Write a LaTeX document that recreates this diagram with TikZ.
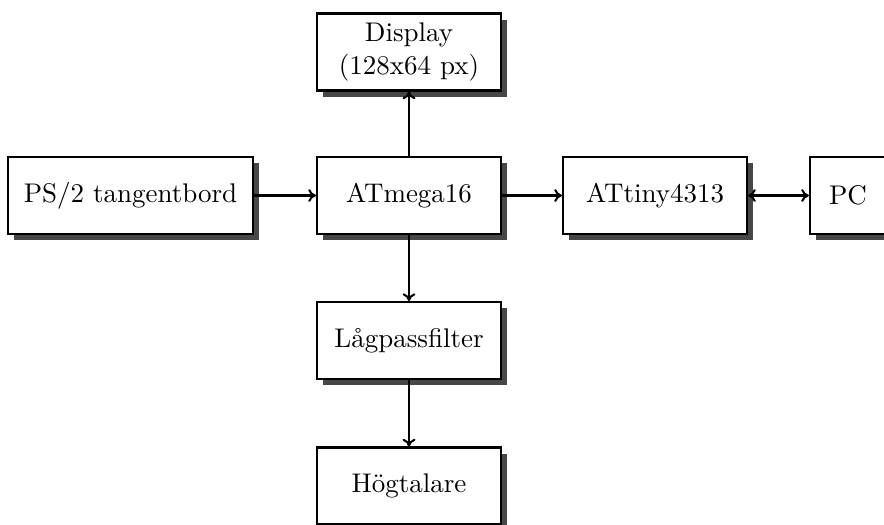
\documentclass[tikz,border=0pt]{standalone}
\usetikzlibrary{shadows,arrows.meta}
\begin{document}
\begin{tikzpicture}[x=0.3891pt,y=-0.3891pt,
  font=\fontsize{10.5}{12.6}\selectfont,
  blk/.style={draw, line width=0.8pt, fill=white, minimum width=71.6pt,
    minimum height=29.95pt, align=center, inner sep=0pt,
    drop shadow={shadow xshift=2.5pt, shadow yshift=-2.5pt, fill=black!72, opacity=1}},
  conn/.style={line width=0.8pt, -{To[length=3pt,width=5pt]}},
  bconn/.style={line width=0.8pt, {To[length=3pt,width=5pt]}-{To[length=3pt,width=5pt]}}]
\useasboundingbox (0,0) rectangle (884,524);
\clip (0,0) rectangle (884,524);
\node[blk] (disp) at (409,52) {Display\\(128x64 px)};
\node[blk, minimum width=95.3pt] (ps2) at (130.5,195.5) {PS/2 tangentbord};
\node[blk] (atm) at (409,195.5) {ATmega16};
\node[blk] (att) at (655,195.5) {ATtiny4313};
\node[blk, minimum width=29.6pt] (pc) at (848,195.5) {PC};
\node[blk] (lp) at (409,340.5) {Lågpassfilter};
\node[blk] (hog) at (409,486) {Högtalare};
\draw[conn] (ps2) -- (atm);
\draw[conn] (atm) -- (disp);
\draw[conn] (atm) -- (att);
\draw[bconn] (att) -- (pc);
\draw[conn] (atm) -- (lp);
\draw[conn] (lp) -- (hog);
\end{tikzpicture}
\end{document}
